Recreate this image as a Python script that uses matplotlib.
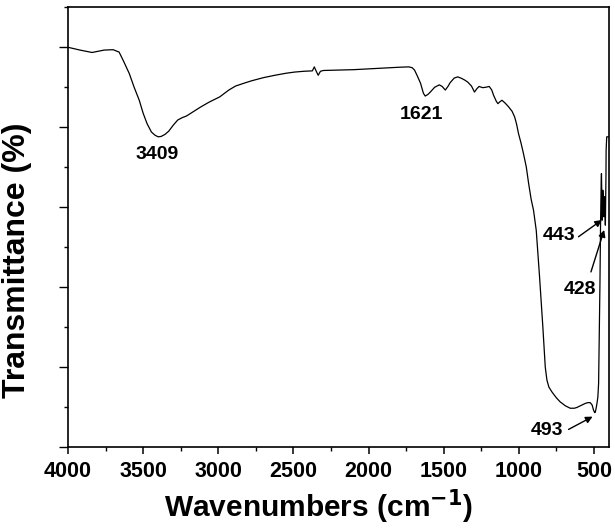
import matplotlib
matplotlib.use("Agg")
import matplotlib.pyplot as plt
from matplotlib.ticker import MultipleLocator, NullFormatter

plt.rcParams['font.family'] = ['Liberation Sans', 'DejaVu Sans']
plt.rcParams['font.weight'] = 'bold'

# FTIR spectrum (wavenumber, transmittance in arbitrary units)
wavenumber = [4000, 3920, 3840, 3760, 3700, 3660, 3630, 3592, 3560, 3526, 3500, 3474,
              3445, 3421, 3400, 3380, 3355, 3330, 3300, 3270, 3240, 3212, 3170, 3120,
              3060, 2990, 2930, 2885, 2830, 2780, 2700, 2623, 2550, 2492, 2430, 2374,
              2361, 2348, 2335, 2320, 2300, 2200, 2099, 2000, 1900, 1800, 1733, 1710,
              1694, 1675, 1654, 1635, 1623, 1605, 1589, 1560, 1529, 1510, 1489, 1470,
              1458, 1430, 1406, 1380, 1360, 1340, 1315, 1295, 1280, 1265, 1240, 1220,
              1197, 1180, 1168, 1150, 1139, 1125, 1112, 1090, 1068, 1045, 1028, 1015,
              1002, 985, 969, 950, 935, 918, 902, 884, 862, 840, 824, 813, 800, 780,
              750, 725, 690, 658, 630, 613, 585, 558, 540, 525, 512, 503, 495, 491,
              485, 480, 474, 469, 466, 463, 460, 458, 456, 454, 452, 450, 448, 446,
              445, 443, 441, 437, 434, 430, 427, 424, 422, 420, 419, 415, 400]
transmittance = [100.0, 99.3, 98.7, 99.3, 99.4, 98.8, 96.5, 93.4, 90.0, 86.75, 83.5, 80.9,
                 78.8, 78.0, 77.6, 77.7, 78.2, 79.0, 80.5, 81.8, 82.4, 82.8, 83.8, 85.0,
                 86.3, 87.6, 89.3, 90.3, 91.0, 91.6, 92.4, 93.0, 93.5, 93.8, 94.0, 94.1,
                 95.1, 94.0, 93.0, 94.0, 94.2, 94.3, 94.4, 94.6, 94.8, 95.0, 95.1, 94.9,
                 94.3, 92.8, 91.0, 88.5, 87.8, 88.2, 88.8, 90.0, 90.6, 90.2, 89.3, 90.3,
                 91.1, 92.3, 92.6, 92.2, 91.8, 91.3, 90.3, 88.8, 89.6, 90.2, 89.9, 90.0,
                 90.2, 89.3, 88.0, 86.5, 85.9, 86.4, 86.75, 86.0, 85.1, 84.0, 82.6, 80.8,
                 78.4, 76.0, 73.4, 70.0, 66.0, 62.0, 59.2, 54.2, 42.6, 30.0, 20.0, 16.75,
                 15.0, 13.8, 12.3, 11.3, 10.3, 9.7, 9.7, 9.9, 10.4, 10.9, 11.1, 11.1,
                 10.5, 9.25, 8.6, 8.7, 9.8, 10.9, 12.5, 15.9, 24.0, 32.6, 41.0, 49.25,
                 56.0, 61.75, 66.0, 68.4, 63.0, 58.0, 56.75, 60.0, 64.25, 61.0, 57.6,
                 62.6, 60.0, 55.5, 62.0, 68.0, 74.25, 77.6, 77.6]

# peak labels: text, text position, arrow tail, arrow head (None = no arrow)
peak_labels = ['3409', '1621', '443', '428', '493']
label_pos = [(3407, 73.2), (1650, 83.2), (731, 52.8), (591, 39.5), (813, 4.1)]
arrow_tail = [None, None, (603, 52.6), (520, 43.8), (669, 4.4)]
arrow_head = [None, None, (447, 56.8), (432, 54.3), (509, 7.6)]

fig = plt.figure(figsize=(6.15, 5.3), dpi=100)
ax = fig.add_axes([0.1106, 0.1566, 0.8796, 0.8296])

ax.plot(wavenumber, transmittance, color='black', lw=0.9)

for txt, pos, tail, head in zip(peak_labels, label_pos, arrow_tail, arrow_head):
    ax.text(pos[0], pos[1], txt, ha='center', va='center', fontsize=14, fontweight='bold')
    if tail is not None:
        ax.annotate('', xy=head, xytext=tail,
                    arrowprops=dict(arrowstyle='-|>', color='black', lw=1.0,
                                    mutation_scale=10, shrinkA=0, shrinkB=0))

ax.set_xlim(4000, 400)
ax.set_ylim(0, 110)
ax.xaxis.set_major_locator(MultipleLocator(500))
ax.xaxis.set_minor_locator(MultipleLocator(250))
ax.yaxis.set_major_locator(MultipleLocator(20))
ax.yaxis.set_minor_locator(MultipleLocator(10))
ax.yaxis.set_major_formatter(NullFormatter())

ax.tick_params(axis='x', which='major', direction='out', length=5, width=1.1,
               labelsize=15.5, pad=5)
ax.tick_params(axis='x', which='minor', direction='out', length=3, width=1.0)
ax.tick_params(axis='y', which='major', direction='out', length=6.5, width=1.0)
ax.tick_params(axis='y', which='minor', direction='out', length=3, width=1.0)
ax.tick_params(top=False, right=False, which='both')
for lab in ax.get_xticklabels():
    lab.set_fontweight('bold')
for s in ax.spines.values():
    s.set_linewidth(1.2)

ax.set_xlabel('Wavenumbers (cm$^{\\mathbf{-1}}$)', fontsize=21.5, fontweight='bold')
ax.set_ylabel('Transmittance (%)', fontsize=23, fontweight='bold')
ax.xaxis.set_label_coords(0.464, -0.093)
ax.yaxis.set_label_coords(-0.067, 0.425)

fig.savefig('out.png', dpi=100)
